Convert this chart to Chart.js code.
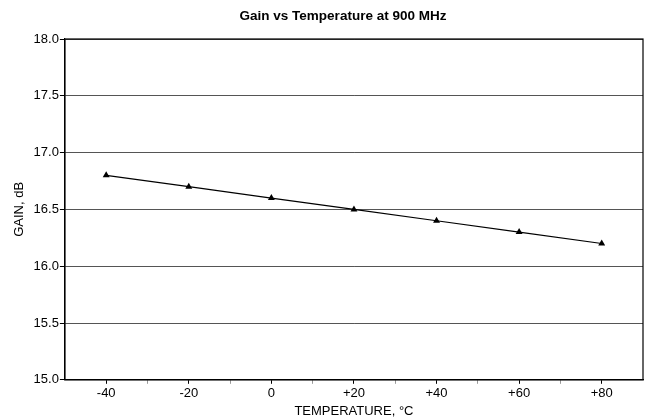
<!DOCTYPE html>
<html>
<head>
<meta charset="utf-8">
<script src="https://cdn.jsdelivr.net/npm/chart.js@4/dist/chart.umd.min.js"></script>
<style>
html,body{margin:0;padding:0;background:#fff;}
#wrap{width:647px;height:419px;}
</style>
</head>
<body>
<div id="wrap"><canvas id="c" width="647" height="419"></canvas></div>
<script>
const temperatures = [-40, -20, 0, 20, 40, 60, 80];
const gainValues = [16.8, 16.7, 16.6, 16.5, 16.4, 16.3, 16.2];
const xTickValues = [-40, -30, -20, -10, 0, 10, 20, 30, 40, 50, 60, 70, 80];
const xLabelValues = [-40, -20, 0, 20, 40, 60, 80];
const yTickValues = [15.0, 15.5, 16.0, 16.5, 17.0, 17.5, 18.0];
const titleText = 'Gain vs Temperature at 900 MHz';

const FONT = "'Liberation Sans', Arial, Helvetica, sans-serif";

const framePlugin = {
  id: 'frame',
  afterDraw(chart) {
    const {ctx, chartArea: a} = chart;
    ctx.save();
    ctx.strokeStyle = '#000';
    ctx.lineWidth = 1.2;
    ctx.strokeRect(a.left, a.top, a.right - a.left, a.bottom - a.top);
    ctx.fillStyle = '#000';
    ctx.font = 'bold 13.5px ' + FONT;
    ctx.textAlign = 'center';
    ctx.textBaseline = 'middle';
    ctx.fillText(titleText, 343, 16);
    ctx.restore();
  }
};

new Chart(document.getElementById('c'), {
  type: 'line',
  data: {
    datasets: [{
      data: temperatures.map((t, i) => ({x: t, y: gainValues[i]})),
      borderColor: '#000',
      borderWidth: 1.2,
      backgroundColor: '#000',
      pointStyle: 'triangle',
      pointRadius: 4,
      pointBorderWidth: 0,
      tension: 0
    }]
  },
  options: {
    responsive: false,
    animation: false,
    devicePixelRatio: 1,
    layout: {padding: {top: 39, left: 12, right: 1, bottom: 0}},
    plugins: {legend: {display: false}, tooltip: {enabled: false}, title: {display: false}},
    scales: {
      x: {
        type: 'linear',
        min: -50, max: 90,
        afterBuildTicks: s => { s.ticks = xTickValues.map(v => ({value: v})); },
        afterFit: s => { s.paddingRight = 0; s.paddingLeft = 0; },
        ticks: {
          autoSkip: false, maxRotation: 0, padding: 2,
          color: '#000', font: {family: FONT, size: 13},
          callback: v => xLabelValues.includes(v) ? (v > 0 ? '+' + v : String(v)) : ''
        },
        grid: {
          drawOnChartArea: false, drawTicks: true, tickLength: 4,
          tickColor: c => (c.tick && xLabelValues.includes(c.tick.value)) ? '#000' : '#999'
        },
        border: {color: '#000', width: 1.2},
        title: {display: true, text: 'TEMPERATURE, °C', color: '#000',
          font: {family: FONT, size: 13}, padding: {top: 0, bottom: 0}}
      },
      y: {
        type: 'linear',
        min: 15, max: 18,
        afterBuildTicks: s => { s.ticks = yTickValues.map(v => ({value: v})); },
        afterFit: s => { s.paddingTop = 0; s.paddingBottom = 0; },
        ticks: {
          padding: 1, color: '#000', font: {family: FONT, size: 13},
          callback: v => Number(v).toFixed(1)
        },
        grid: {color: '#555', lineWidth: 1, tickLength: 5, tickColor: '#000'},
        border: {color: '#000', width: 1.2},
        title: {display: true, text: 'GAIN, dB', color: '#000',
          font: {family: FONT, size: 13}, padding: {top: 0, bottom: 5}}
      }
    }
  },
  plugins: [framePlugin]
});
</script>
</body>
</html>
